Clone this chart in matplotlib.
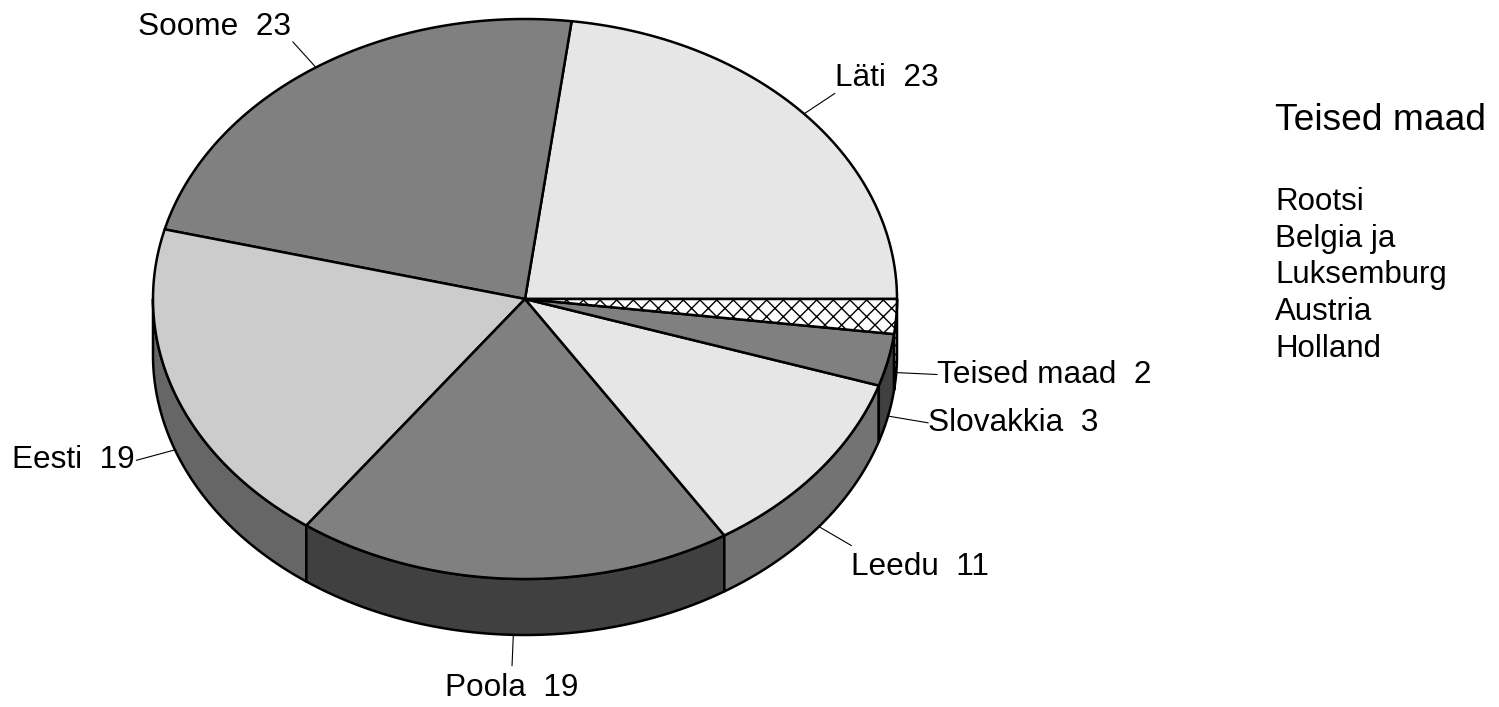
import numpy as np
import matplotlib.pyplot as plt
from matplotlib.patches import Polygon

plt.rcParams['font.family'] = ['Liberation Sans', 'DejaVu Sans']
plt.rcParams['hatch.linewidth'] = 1.0

# shares by country, counter-clockwise from 3 o'clock
names = ['Läti', 'Soome', 'Eesti', 'Poola', 'Leedu', 'Slovakkia', 'Teised maad']
shares = [23, 23, 19, 19, 11, 3, 2]
top_colors = ['#e6e6e6', '#808080', '#cccccc', '#808080', '#e6e6e6', '#808080', 'white']
side_colors = ['#b3b3b3', '#666666', '#666666', '#404040', '#737373', '#404040', 'white']
hatches = [None, None, None, None, None, None, 'xx']

other_title = 'Teised maad'
other_countries = ['Rootsi', 'Belgia ja', 'Luksemburg', 'Austria', 'Holland']

# pie geometry (pixel units, y pointing down)
cx, cy = 525, 299
rx, ry = 372, 280
depth = 56

fig = plt.figure(figsize=(14.99, 7.07), dpi=100)
ax = fig.add_axes([0, 0, 1, 1])
ax.set_xlim(0, 1499)
ax.set_ylim(707, 0)
ax.axis('off')


def rim(deg):
    t = np.radians(deg)
    return cx + rx * np.cos(t), cy - ry * np.sin(t)


edges = 360.0 * np.cumsum([0] + shares) / sum(shares)

# side walls (only the front half is visible)
for i in range(len(shares)):
    lo = max(edges[i], 180)
    hi = min(edges[i + 1], 360)
    if hi <= lo:
        continue
    x, y = rim(np.linspace(lo, hi, 120))
    pts = np.column_stack([np.r_[x, x[::-1]], np.r_[y, y[::-1] + depth]])
    ax.add_patch(Polygon(pts, closed=True, fc=side_colors[i], ec='black',
                         lw=1.8, hatch=hatches[i], joinstyle='round'))

# top faces
for i in range(len(shares)):
    x, y = rim(np.linspace(edges[i], edges[i + 1], 200))
    pts = np.column_stack([np.r_[cx, x], np.r_[cy, y]])
    ax.add_patch(Polygon(pts, closed=True, fc=top_colors[i], ec='black',
                         lw=1.8, hatch=hatches[i], joinstyle='round'))

# labels with leader lines
for i, name in enumerate(names):
    mid = (edges[i] + edges[i + 1]) / 2
    c, s = np.cos(np.radians(mid)), np.sin(np.radians(mid))
    drop = depth if s < 0 else 0
    x0, y0 = cx + rx * c, cy - ry * s + drop
    x1, y1 = cx + 1.11 * rx * c, cy - 1.11 * ry * s + drop
    ax.plot([x0, x1], [y0, y1], color='black', lw=0.8)
    ha = 'left' if c > 0.2 else ('right' if c < -0.2 else 'center')
    va = 'bottom' if s > 0.5 else ('top' if s < -0.5 else 'center')
    tx, ty = x1, y1
    if va == 'top':
        ty += 7
    if ha == 'right':
        tx -= 2
    ax.text(tx, ty, f'{name}  {shares[i]}', ha=ha, va=va, fontsize=22.7)

# list of the countries grouped into "Teised maad"
ax.text(1275, 130, other_title, fontsize=26.7, va='baseline', ha='left')
for k, country in enumerate(other_countries):
    ax.text(1275, 210 + 36.7 * k, country, fontsize=22.5, va='baseline', ha='left')

fig.savefig('out.png', dpi=100)
